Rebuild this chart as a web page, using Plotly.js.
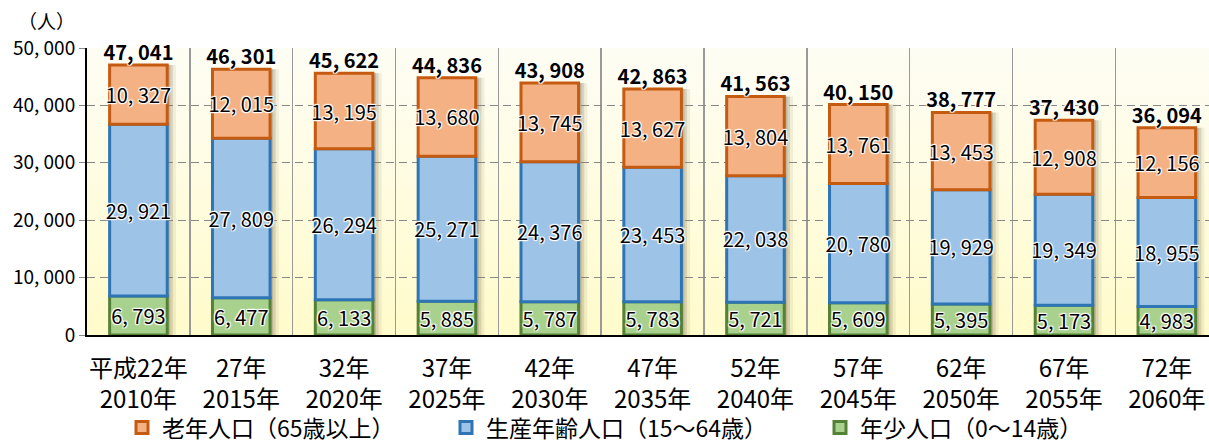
<!DOCTYPE html>
<html><head><meta charset="utf-8">
<script src="https://cdn.plot.ly/plotly-3.0.1.min.js"></script>
<style>html,body{margin:0;padding:0;background:#fff;}#chart{width:1209px;height:441px;}</style>
</head><body><div id="chart"></div>
<script>
const categories = ['平成22年<br>2010年','27年<br>2015年','32年<br>2020年','37年<br>2025年','42年<br>2030年','47年<br>2035年','52年<br>2040年','57年<br>2045年','62年<br>2050年','67年<br>2055年','72年<br>2060年'];
const youth = [6793, 6477, 6133, 5885, 5787, 5783, 5721, 5609, 5395, 5173, 4983];
const working = [29921, 27809, 26294, 25271, 24376, 23453, 22038, 20780, 19929, 19349, 18955];
const elderly = [10327, 12015, 13195, 13680, 13745, 13627, 13804, 13761, 13453, 12908, 12156];
const totals = [47041, 46301, 45622, 44836, 43908, 42863, 41563, 40150, 38777, 37430, 36094];
const yTicks = [0, 10000, 20000, 30000, 40000, 50000];

function fmt(v){ const s = String(v); if (s.length <= 3) return s; return s.slice(0, s.length-3) + ', ' + s.slice(s.length-3); }

const JP = '"Noto Sans CJK JP", sans-serif';
const halo = '1px 1px 1px #fff, -1px -1px 1px #fff, 1px -1px 1px #fff, -1px 1px 1px #fff, 0 0 2px #fff';
const BW = 0.56;

// stacked bases built from the series
const baseWorking = youth.slice();
const baseElderly = youth.map((v, i) => v + working[i]);

function barTrace(name, vals, base, fill, line, leg){
  return {type:'bar', name:name, legend:leg, x:categories, y:vals, base:base, width:BW, text:vals.map(fmt), textposition:'inside', insidetextanchor:'middle',
    textangle:0, constraintext:'none',
    textfont:{family:JP, size:20, color:'#000', shadow:halo},
    marker:{color:fill, line:{color:line, width:3}}, hoverinfo:'skip'};
}
function shadowTrace(w, col){
  return {type:'bar', x:categories, y:totals, width:w, offset:BW/2, marker:{color:col, line:{width:0}}, showlegend:false, hoverinfo:'skip'};
}
const data = [
  shadowTrace(0.085, 'rgba(150,140,100,0.13)'),
  shadowTrace(0.055, 'rgba(130,120,90,0.22)'),
  shadowTrace(0.03, 'rgba(110,100,80,0.25)'),
  barTrace('年少人口（0～14歳）', youth, 0, '#A9D18E', '#538135', 'legend3'),
  barTrace('生産年齢人口（15～64歳）', working, baseWorking, '#9DC3E6', '#2E75B6', 'legend2'),
  barTrace('老年人口（65歳以上）', elderly, baseElderly, '#F4B183', '#C55A11', 'legend'),
  {type:'scatter', mode:'text', x:categories, y:totals, text:totals.map(fmt), textposition:'top center',
   textfont:{family:JP, size:20, color:'#000', weight:'bold', shadow:halo}, showlegend:false, hoverinfo:'skip', cliponaxis:false}
];
const bg = 'data:image/svg+xml;utf8,' + encodeURIComponent('<svg xmlns="http://www.w3.org/2000/svg" width="10" height="100" preserveAspectRatio="none"><defs><linearGradient id="g" x1="0" y1="0" x2="0" y2="1"><stop offset="0" stop-color="#FEFDF4"/><stop offset="1" stop-color="#FFFBCB"/></linearGradient></defs><rect width="10" height="100" fill="url(#g)"/></svg>');
function leg(xpx){ return {orientation:'h', xref:'container', yref:'container', x:xpx/1209, xanchor:'left', y:0.079, yanchor:'top',
  font:{family:JP, size:23, color:'#000'}, bgcolor:'rgba(0,0,0,0)', borderwidth:0}; }
const layout = {
  width:1209, height:441, margin:{l:87, r:0, t:48, b:106, autoexpand:false},
  paper_bgcolor:'#fff', plot_bgcolor:'rgba(0,0,0,0)',
  barmode:'overlay',
  images:[{source:bg, xref:'paper', yref:'paper', x:0, y:1, sizex:1, sizey:1, sizing:'stretch', layer:'below', xanchor:'left', yanchor:'top'}],
  xaxis:{type:'category', range:[-0.5, 10.41], tickson:'boundaries', showgrid:true, gridcolor:'#999', gridwidth:1.5, ticks:'', showline:true, linecolor:'#000', linewidth:2,
    tickangle:0, ticklabelstandoff:11, tickfont:{family:JP, size:24, color:'#000'}, automargin:false},
  yaxis:{range:[0,50000], tickvals:yTicks, ticktext:yTicks.map(fmt), showgrid:true, gridcolor:'#888', griddash:'8px,5px', gridwidth:1.2,
    showline:true, linecolor:'#000', linewidth:2, ticks:'outside', ticklen:6, tickcolor:'#888', zeroline:false,
    tickfont:{family:JP, size:19, color:'#000'}, automargin:false},
  legend:leg(122), legend2:leg(446), legend3:leg(820),
  annotations:[{text:'（人）', xref:'paper', yref:'paper', x:-0.036, y:1.095, xanchor:'center', yanchor:'middle', showarrow:false,
    font:{family:JP, size:19, color:'#000'}}],
  showlegend:true
};
Plotly.newPlot('chart', data, layout, {displayModeBar:false, staticPlot:true});
</script></body></html>
